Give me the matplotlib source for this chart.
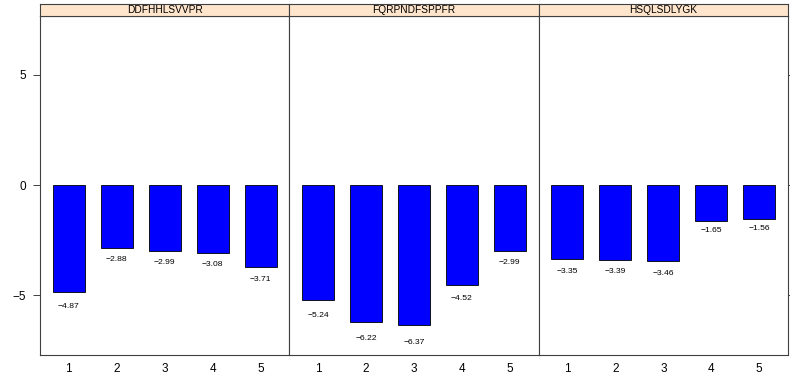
import matplotlib
matplotlib.use("Agg")
import matplotlib.pyplot as plt
from matplotlib.patches import Rectangle

plt.rcParams["font.family"] = ["Liberation Sans", "DejaVu Sans"]

peptides = ["DDFHHLSVVPR", "FQRPNDFSPPFR", "HSQLSDLYGK"]
positions = [1, 2, 3, 4, 5]
values = {
    "DDFHHLSVVPR": [-4.87, -2.88, -2.99, -3.08, -3.71],
    "FQRPNDFSPPFR": [-5.24, -6.22, -6.37, -4.52, -2.99],
    "HSQLSDLYGK": [-3.35, -3.39, -3.46, -1.65, -1.56],
}
yticks = [-5, 0, 5]

W, H = 790, 374
fig = plt.figure(figsize=(W / 100, H / 100), dpi=100)

left_px, right_px = 40, 788
strip_top_px, strip_bot_px, panel_bot_px = 4, 16, 355
pw = (right_px - left_px) / 3
frame_col = "#404040"

for i, pep in enumerate(peptides):
    x0 = (left_px + i * pw) / W
    ax = fig.add_axes([x0, 1 - panel_bot_px / H, pw / W, (panel_bot_px - strip_bot_px) / H])
    vals = values[pep]
    ax.bar(positions, vals, width=2 / 3, color="#0000FF", edgecolor="black", linewidth=0.6)
    for x, v in zip(positions, vals):
        # value labels sit just below each bar end
        ax.text(x, v * 1.07 - 0.32, f"{v:.2f}".replace("-", "\u2212"),
                ha="center", va="center", fontsize=6.1)
    ax.set_xlim(0.4, 5.6)
    ax.set_ylim(-7.72, 7.68)
    ax.set_xticks(positions)
    ax.set_xticklabels([str(p) for p in positions], fontsize=8.5)
    ax.set_yticks(yticks)
    ax.set_yticklabels([str(t).replace("-", "\u2212") for t in yticks], fontsize=8.5)
    ax.tick_params(axis="x", length=0, pad=6)
    ax.tick_params(axis="y", length=5, width=0.7, color=frame_col, pad=5,
                   left=(i == 0), labelleft=(i == 0), right=(i == 2), labelright=False)
    for s in ax.spines.values():
        s.set_color(frame_col)
        s.set_linewidth(0.8)

    sax = fig.add_axes([x0, 1 - strip_bot_px / H, pw / W, (strip_bot_px - strip_top_px) / H])
    sax.set_xlim(0, 1)
    sax.set_ylim(0, 1)
    sax.add_patch(Rectangle((0, 0), 1, 1, facecolor="#FFE5CC", edgecolor="none"))
    sax.set_xticks([])
    sax.set_yticks([])
    for s in sax.spines.values():
        s.set_color(frame_col)
        s.set_linewidth(0.8)
    sax.text(0.5, 0.5, pep, ha="center", va="center", fontsize=7.3)

fig.savefig("out.png", dpi=100)
